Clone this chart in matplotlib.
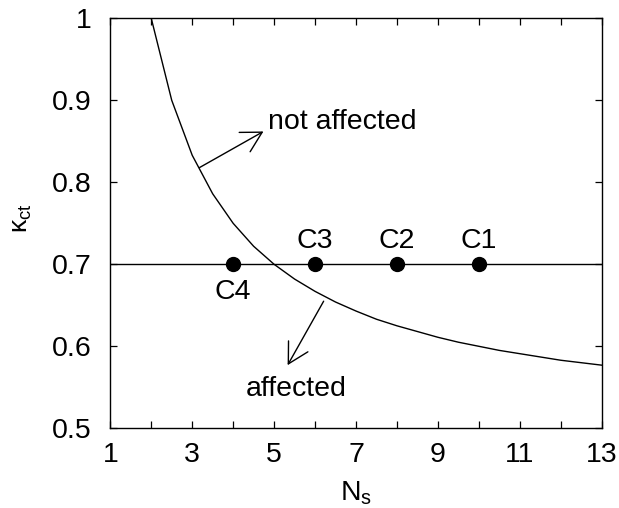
import matplotlib
matplotlib.use("Agg")
import matplotlib.pyplot as plt

plt.rcParams["font.family"] = ["Liberation Sans", "DejaVu Sans"]

# critical curve kappa_ct(N_s)
ns_curve = [2.0, 2.5, 3.0, 3.5, 4.0, 4.5, 5.0, 5.5, 6.0, 6.5, 7.0, 7.5,
            8.0, 8.5, 9.0, 9.5, 10.0, 10.5, 11.0, 11.5, 12.0, 12.5, 13.0]
kappa_curve = [1.0, 0.9, 0.833, 0.786, 0.75, 0.722, 0.7, 0.682, 0.667, 0.654,
               0.643, 0.633, 0.625, 0.618, 0.611, 0.605, 0.6, 0.595, 0.591,
               0.587, 0.583, 0.58, 0.577]

# design level and cases
kappa_level = 0.7
case_names = ["C1", "C2", "C3", "C4"]
case_ns = [10, 8, 6, 4]
case_kappa = [0.7, 0.7, 0.7, 0.7]

xticks = [1, 3, 5, 7, 9, 11, 13]
yticks = [0.5, 0.6, 0.7, 0.8, 0.9, 1.0]
ytick_labels = ["0.5", "0.6", "0.7", "0.8", "0.9", "1"]

FS = 20.5

fig = plt.figure(figsize=(6.19, 5.08), dpi=100)
ax = fig.add_axes([110.3 / 619, 1 - 428.3 / 508, 491.4 / 619, 410.0 / 508])

ax.plot(ns_curve, kappa_curve, color="black", lw=1.0)
ax.plot([1, 13], [kappa_level, kappa_level], color="black", lw=1.0)
ax.plot(case_ns, case_kappa, "o", color="black", ms=10)

for name, x, y in zip(case_names, case_ns, case_kappa):
    if name == "C4":
        ax.text(x, y - 0.0427, name, ha="center", va="baseline", fontsize=FS)
    else:
        ax.text(x, y + 0.0195, name, ha="center", va="baseline", fontsize=FS)

arrow = dict(arrowstyle="->,head_length=1.45,head_width=0.8", color="black",
             lw=1.0, shrinkA=0, shrinkB=0)
ax.annotate("", xy=(4.74, 0.862), xytext=(3.18, 0.818), arrowprops=arrow)
ax.text(4.86, 0.8646, "not affected", ha="left", va="baseline", fontsize=FS)
ax.annotate("", xy=(5.33, 0.577), xytext=(6.21, 0.655), arrowprops=arrow)
ax.text(4.30, 0.539, "affected", ha="left", va="baseline", fontsize=FS)

ax.set_xlim(1, 13)
ax.set_ylim(0.5, 1.0)
ax.set_xticks(xticks)
ax.set_xticks(range(1, 14), minor=True)
ax.set_yticks(yticks)
ax.set_yticklabels(ytick_labels)
ax.tick_params(which="both", direction="in", top=True, right=True,
               length=5, width=0.9, labelsize=FS)
ax.tick_params(axis="x", which="both", pad=10)
ax.tick_params(axis="y", which="both", pad=13.5)
for s in ax.spines.values():
    s.set_linewidth(1.0)

# axis titles placed by hand, x title sits right at the bottom edge
fig.text(340 / 619, 1 - 500 / 508, r"N$_\mathregular{s}$", fontsize=FS,
         ha="left", va="baseline")
fig.text(22 / 619, 1 - 218 / 508, r"$\mathregular{κ_{ct}}$", fontsize=19,
         ha="center", va="center", rotation=90)

fig.savefig("out.png", dpi=100)
